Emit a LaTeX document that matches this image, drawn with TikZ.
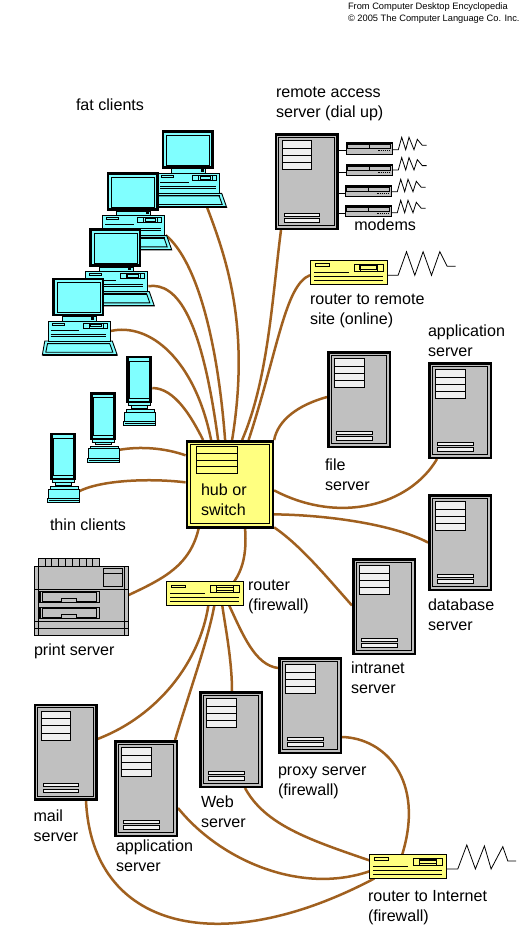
\documentclass[tikz,border=0pt]{standalone}
\usepackage{fontspec}
\setmainfont{Liberation Sans}
\usetikzlibrary{backgrounds,calc}
\definecolor{cablec}{HTML}{A0601F}
\definecolor{hubyel}{HTML}{FFFF80}
\definecolor{scrcyan}{HTML}{80FFFF}
\definecolor{boxgray}{HTML}{C0C0C0}
\definecolor{paneg}{HTML}{F0F0F0}
\tikzset{
  cable/.style={draw=cablec,line width=2.5pt},
  wire/.style={draw=black,line width=.8pt},
  thin/.style={line width=.9pt},
  frame/.style={minimum width=#1,inner sep=0pt,outer sep=0pt,anchor=north west},
  lab/.style={inner sep=0pt,outer sep=0pt,anchor=north west,align=left,font=\fontsize{16.1}{20}\selectfont},
  small/.style={inner sep=0pt,outer sep=0pt,anchor=north west,align=left,font=\fontsize{9.3}{12}\selectfont}
}
\newcommand\lbl[4]{\node[lab] (#1) at (#2,#3-12) {\rule{0pt}{12pt}#4};}
% server tower
\newcommand\serverbox[3]{%
  \node[frame=64pt,minimum height=97pt] (#1) at (#2,#3) {};
  \begin{scope}[shift={(#2,#3)}]
    \fill[boxgray] (0,0) rectangle (64,97);
    \draw[line width=2.5pt] (1.25,1.25) rectangle (62.75,95.75);
    \draw[thin] (4.2,4.2) rectangle (59.8,92.8);
    \draw[thin,fill=paneg] (7.7,7.7) rectangle (37,36.7);
    \draw[thin] (7.7,15) -- (37,15) (7.7,22.2) -- (37,22.2) (7.7,29.5) -- (37,29.5);
    \draw[thin,fill=paneg] (9.5,80) rectangle (45,83.3);
    \draw[thin,fill=paneg] (9.5,85.8) rectangle (45,89);
  \end{scope}}
% desktop PC
\newcommand\pcbox[3]{%
  \node[frame=75pt,minimum height=77.7pt] (#1) at (#2-10,#3) {};
  \begin{scope}[shift={(#2,#3)}]
    \draw[thin,fill=scrcyan] (-10,77.5) -- (-7.5,63.3) -- (60,63.3) -- (65,77.5) -- cycle;
    \draw[thin] (-6.5,74.5) -- (-4.8,66) -- (57.5,66) -- (60.5,74.5) -- cycle;
    \draw[line width=1.6pt] (-5,65.6) -- (58,65.6) (-9.5,77) -- (64.5,77);
    \draw[thin,fill=scrcyan] (-4,43.3) rectangle (58,63.3);
    \draw[thin] (-.3,45.3) rectangle (12,47.3);
    \draw[thin] (-1.7,52.3) -- (27,52.3);
    \draw[thin] (-1.7,56.3) -- (54,56.3) (-1.7,58.3) -- (54,58.3);
    \draw[thin] (30.7,45.3) rectangle (55,50.3);
    \draw[thin] (36.7,45.3) -- (36.7,50.3) (50.7,45.3) -- (50.7,50.3);
    \draw[line width=.9pt] (38.5,46.6) rectangle (49,49);
    \draw[thin,fill=scrcyan] (10,38.7) rectangle (44,43.3);
    \fill (39,39.2) rectangle (42,42);
    \draw[line width=2.6pt,fill=scrcyan] (1.3,1.3) rectangle (50.7,37.4);
    \draw[thin] (4.8,5) rectangle (48,35);
  \end{scope}}
% thin client
\newcommand\thinbox[3]{%
  \node[frame=32pt,minimum height=70pt] (#1) at (#2-3,#3) {};
  \begin{scope}[shift={(#2,#3)}]
    \draw[thin,fill=scrcyan] (-3,66) rectangle (29.4,70);
    \draw[thin,fill=scrcyan] (-2.3,56.3) rectangle (28.7,66);
    \draw[thin,fill=scrcyan] (-.3,53.7) rectangle (27.7,56.3);
    \draw[thin] (-1,67.7) -- (28.5,67.7);
    \draw[thin,fill=scrcyan] (4.7,47) rectangle (21.3,52.5);
    \draw[thin,fill=scrcyan] (2,47) rectangle (24,49.7);
    \draw[line width=2.2pt,fill=scrcyan] (1.1,1.1) rectangle (24.2,46.4);
    \draw[thin] (3,5.3) rectangle (23,43);
  \end{scope}}
% small yellow router
\newcommand\routerbox[3]{%
  \node[frame=77.5pt,minimum height=24.3pt] (#1) at (#2,#3) {};
  \begin{scope}[shift={(#2,#3)}]
    \draw[thin,fill=hubyel] (0,0) rectangle (77.5,24.3);
    \draw[thin] (5,3.6) rectangle (19.5,6);
    \draw[thin] (4,12.5) -- (39,12.5) (4,16.5) -- (73,16.5) (4,20.5) -- (73,20.5);
    \draw[thin] (44,4) rectangle (73,11);
    \draw[thin] (50,4) -- (50,11) (67,4) -- (67,11);
    \draw[line width=1.2pt] (50,5.8) rectangle (67,9.2);
  \end{scope}}
% modem
\newcommand\modembox[3]{%
  \node[frame=46.4pt,minimum height=12pt] (#1) at (#2,#3) {};
  \begin{scope}[shift={(#2,#3)}]
    \draw[thin,fill=boxgray] (.4,.4) rectangle (46,11.6);
    \draw[line width=1.4pt] (.4,1) -- (46,1);
    \draw[thin] (1.4,2) rectangle (44.4,6.3) (23,2) -- (23,6.3);
    \draw[line width=1pt,dash pattern=on 1.2pt off 1pt] (32,8.2) -- (44,8.2);
  \end{scope}}
\begin{document}
\begin{tikzpicture}[x=1pt,y=-1pt]
\useasboundingbox (0,0) rectangle (520,937);

\node[small] (credit) at (348,3) {From Computer Desktop Encyclopedia\\\textcopyright\ 2005 The Computer Language Co. Inc.};

% devices
\pcbox{pca}{161.7}{130}
\pcbox{pcb}{106.7}{172.3}
\pcbox{pcc}{89.3}{228.3}
\pcbox{pcd}{52.3}{277.7}
\thinbox{tca}{126.3}{355.7}
\thinbox{tcb}{90.3}{392.3}
\thinbox{tcc}{50.3}{432.7}

\serverbox{ras}{274.7}{133}
\serverbox{filesrv}{327}{351}
\serverbox{apptop}{428}{362}
\serverbox{dbsrv}{428}{494}
\serverbox{intra}{352}{558}
\serverbox{proxy}{278}{657}
\serverbox{websrv}{199}{691}
\serverbox{appbot}{114}{740}
\serverbox{mailsrv}{33.5}{703.5}

\routerbox{rremote}{310}{260}
\routerbox{rfire}{166.3}{581.4}
\routerbox{rnet}{369.3}{854.2}

\modembox{moda}{346.3}{142.5}
\modembox{modb}{346.3}{164}
\modembox{modc}{345.3}{185}
\modembox{modd}{345.3}{205.3}

% hub
\node[frame=88.5pt,minimum height=88.7pt] (hub) at (185.6,440) {};
\begin{scope}[shift={(185.6,440)}]
  \draw[line width=2.6pt,fill=hubyel] (1.3,1.3) rectangle (87.2,87.4);
  \draw[thin] (4.5,4) rectangle (84,83.7);
  \draw[thin] (10.6,6.2) rectangle (52,33.6);
  \draw[thin] (10.6,13) -- (52,13) (10.6,20) -- (52,20) (10.6,26.8) -- (52,26.8);
\end{scope}

% printer
\node[frame=94.4pt,minimum height=77pt] (printer) at (34.3,558.3) {};
\begin{scope}[shift={(34.3,558.3)}]
  \draw[thin,fill=boxgray] (4,0) rectangle (65.4,8.4);
  \foreach \i in {1,...,8} \draw[thin] (4+6.82*\i,0) -- (4+6.82*\i,8.4);
  \draw[thin,fill=boxgray] (0,8.4) rectangle (94.4,77);
  \draw[thin] (4.2,8.4) -- (4.2,77) (90.2,8.4) -- (90.2,77);
  \draw[thin] (0,31) -- (94.4,31) (0,63.4) -- (94.4,63.4) (0,70.4) -- (94.4,70.4);
  \draw[line width=1pt] (69,10) rectangle (88.4,28.4);
  \draw[thin] (69,15) -- (88.4,15);
  \foreach \t in {33,49} {
    \draw[thin] (4.7,\t) rectangle (65.4,\t+11);
    \fill (4.7,\t) rectangle (6.8,\t+11);
    \draw[thin] (8.4,\t+1) -- (62.4,\t+1) -- (62.4,\t+10.5) -- (42,\t+10.5) -- (42,\t+7.5) -- (27.4,\t+7.5) -- (27.4,\t+10.5) -- (8.4,\t+10.5) -- cycle;
  }
\end{scope}

% labels
\lbl{lfat}{76}{110}{fat clients}
\lbl{lras}{276}{97.7}{remote access\\server (dial up)}
\lbl{lmod}{354.3}{230}{modems}
\lbl{lrr}{310}{304}{router to remote\\site (online)}
\lbl{lapt}{428}{336.5}{application\\server}
\lbl{lfile}{325}{470}{file\\server}
\lbl{lhub}{201}{495}{hub or\\switch}
\lbl{lthin}{50}{530}{thin clients}
\lbl{lprint}{34}{655}{print server}
\lbl{lfw}{248}{590}{router\\(firewall)}
\lbl{ldb}{428}{610.5}{database\\server}
\lbl{lint}{351}{673}{intranet\\server}
\lbl{lpx}{278}{775}{proxy server\\(firewall)}
\lbl{lweb}{201}{807.7}{Web\\server}
\lbl{lmail}{33.5}{821}{mail\\server}
\lbl{lapb}{116}{851.7}{application\\server}
\lbl{lnet}{368}{901.7}{router to Internet\\(firewall)}

% wires
\draw[wire] ($(ras.east |- moda.west)+(0,1.8)$) -- ([yshift=-1.8pt]moda.west);
\draw[wire] ($(ras.east |- modb.west)+(0,2.3)$) -- ([yshift=-2.3pt]modb.west);
\draw[wire] ($(ras.east |- modc.west)+(0,2)$) -- ([yshift=-2pt]modc.west);
\draw[wire] ($(ras.east |- modd.west)+(0,1.7)$) -- ([yshift=-1.7pt]modd.west);
\foreach \m/\d in {moda/1.2,modb/0,modc/0.7,modd/1.4}
  \draw[wire] ([yshift=-\d pt]\m.east) -- ++(5.6,0) -- ++(3.4,-12.4) -- ++(4,12.4) -- ++(3.3,-12.4) -- ++(5,12.4) -- ++(3.3,-10.4) -- ++(5,6) -- ++(4.4,0);
\draw[wire] ([yshift=-3.15pt]rremote.east) -- ++(10.6,0) -- ++(8.4,-23.6) -- ++(8.3,23.6) -- ++(8.3,-23.6) -- ++(8.4,23.6) -- ++(8.3,-23.6) -- ++(7.3,14.6) -- ++(8.4,0);
\draw[wire] ([yshift=-2.6pt]rnet.east) -- ++(11,0) -- ++(9,-24) -- ++(8.6,24) -- ++(9,-23) -- ++(6.7,23) -- ++(11.7,-22.3) -- ++(5,14.3) -- ++(8.3,0);

% cables, behind everything
\begin{pgfonlayer}{background}
\fill[white] (0,0) rectangle (520,937);
\draw[cable] ([xshift=18pt]pca.south) .. controls (228,262) and (250,330) .. ([xshift=46.5pt]hub.north west);
\draw[cable] ([xshift=-6pt,yshift=-24pt]pcb.east) .. controls (198,262) and (218,345) .. ([xshift=39.5pt]hub.north west);
\draw[cable] ([xshift=-6pt,yshift=-19pt]pcc.east) .. controls (178,282) and (202,320) .. ([xshift=32.5pt]hub.north west);
\draw[cable] ([xshift=-6.8pt,yshift=-14.5pt]pcd.east) .. controls (150,322) and (195,360) .. ([xshift=25.5pt]hub.north west);
\draw[cable] ([xshift=-3pt,yshift=2.7pt]tca.east) .. controls (175,388) and (192,418) .. ([xshift=17.5pt]hub.north west);
\draw[cable] ([xshift=-1pt,yshift=-22.7pt]tcb.east) .. controls (140,446) and (165,448) .. ([yshift=29pt]hub.west);
\draw[cable] ([xshift=-1pt,yshift=-24pt]tcc.east) .. controls (100,480) and (150,478) .. ([yshift=2pt]hub.west);
\draw[cable] ([xshift=-25.7pt]ras.south) .. controls (272,300) and (268,380) .. ([xshift=56.5pt]hub.north west);
\draw[cable] ([yshift=-3pt]rremote.west) .. controls (285,285) and (278,350) .. ([xshift=63pt]hub.north west);
\draw[cable] ([yshift=2.5pt]filesrv.west) .. controls (298,405) and (278,420) .. (hub.north east);
\draw[cable] ([xshift=-23pt]apptop.south) .. controls (410,505) and (340,525) .. ([yshift=-6pt]hub.east);
\draw[cable] (dbsrv.west) .. controls (395,525) and (330,515) .. ([yshift=-30pt]hub.east);
\draw[cable] ([yshift=1pt]intra.west) .. controls (325,575) and (300,545) .. ([yshift=-43pt]hub.east);
\draw[cable] ([xshift=13pt]hub.south west) .. controls (190,565) and (165,578) .. ([yshift=1.8pt]printer.east);
\draw[cable] ([xshift=59.5pt]hub.south west) .. controls (247,555) and (242,570) .. ([xshift=68pt]rfire.north west);
\draw[cable] ([yshift=37.5pt]proxy.west) .. controls (255,665) and (243,635) .. ([xshift=63pt]rfire.south west);
\draw[cable] ([xshift=33pt]websrv.north west) .. controls (232,660) and (225,625) .. ([xshift=56pt]rfire.south west);
\draw[cable] ([xshift=61pt]appbot.north west) .. controls (190,690) and (208,640) .. ([xshift=48pt]rfire.south west);
\draw[cable] ([yshift=13pt]mailsrv.east) .. controls (160,715) and (200,660) .. ([xshift=42pt]rfire.south west);
\draw[cable] ([yshift=-31.5pt]proxy.east) .. controls (385,738) and (425,780) .. ([xshift=33pt]rnet.north west);
\draw[cable] ([xshift=14pt]websrv.south) .. controls (265,825) and (310,840) .. ([yshift=6pt]rnet.west);
\draw[cable] ([yshift=-19.5pt]appbot.east) .. controls (220,860) and (300,895) .. ([yshift=-5pt]rnet.west);
\draw[cable] ([xshift=20.5pt]mailsrv.south) .. controls (92,930) and (220,960) .. ([xshift=5pt]rnet.south west);
\end{pgfonlayer}
\end{tikzpicture}
\end{document}
